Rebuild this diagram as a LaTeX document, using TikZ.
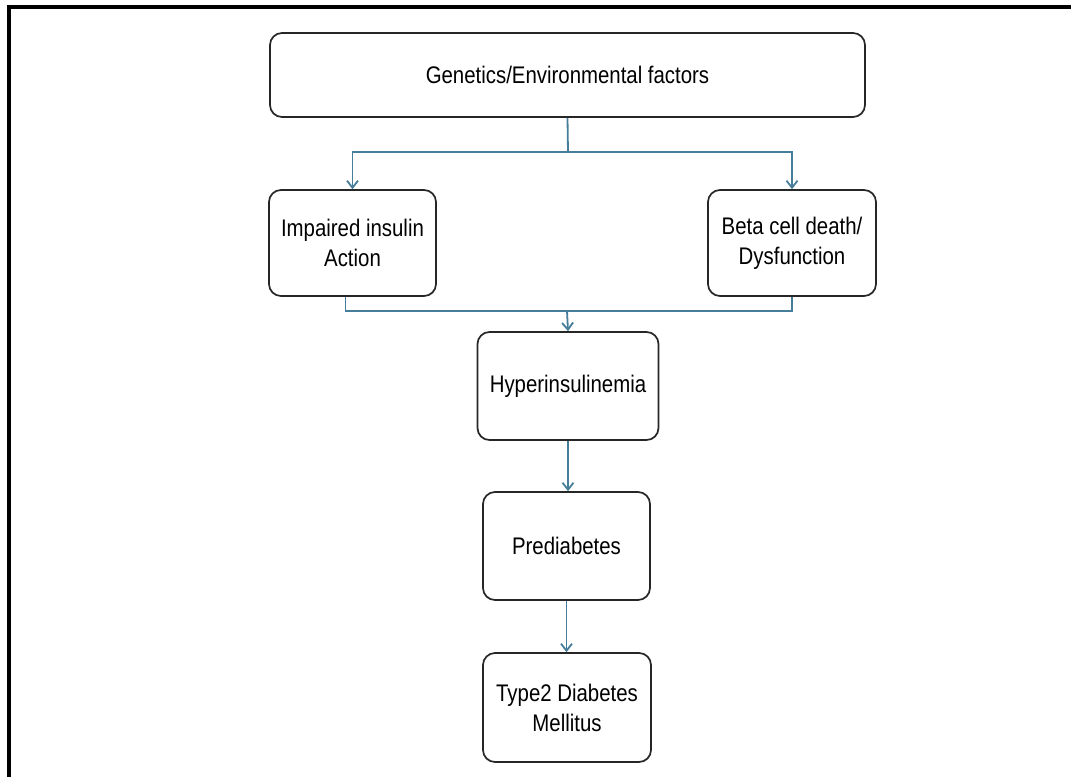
\documentclass[tikz,border=0pt]{standalone}
\usepackage{fontspec}
\setmainfont[FakeStretch=0.85]{Liberation Sans}
\usepackage{tikz}
\usetikzlibrary{shapes,arrows.meta}
\definecolor{flowblue}{RGB}{70,125,155}

\begin{document}
\begin{tikzpicture}[x=1pt,y=-1pt,
	box/.style={draw=black!85,line width=1.7pt,rounded corners=12pt,align=center,font=\fontsize{24}{30}\selectfont},
	link/.style={draw=flowblue,line width=1.8pt},
	flow/.style={link,-{Straight Barb[length=7pt,width=11pt]}}]
\useasboundingbox (0,0) rectangle (1071,777);
\draw[line width=3.5pt] (1071,7) -- (9,7) -- (9,777);
\node [box,minimum width=595pt,minimum height=84pt] (gen) at (567.5,75) {Genetics/Environmental factors};
\node [box,minimum width=167pt,minimum height=106pt] (impaired) at (352.5,243) {Impaired insulin\\Action};
\node [box,minimum width=168pt,minimum height=106pt] (beta) at (792,243) {Beta cell death/\\Dysfunction};
\node [box,minimum width=181pt,minimum height=108pt] (hyper) at (568,386) {Hyperinsulinemia};
\node [box,minimum width=167pt,minimum height=108pt] (prediab) at (566.5,546) {Prediabetes};
\node [box,minimum width=168pt,minimum height=109pt] (t2dm) at (567,707.5) {Type2 Diabetes\\Mellitus};
\coordinate (split) at (568,152);
\coordinate (merge) at (567,311);
\draw[link] (gen.south) -- (split);
\draw[flow] (split) -| (impaired.north);
\draw[flow] (split) -| (beta.north);
\draw[link] ([xshift=-7pt]impaired.south) |- (merge);
\draw[link] (beta.south) |- (merge);
\draw[flow] (merge) -- (hyper.north);
\draw[flow] (hyper.south) -- (hyper.south |- prediab.north);
\draw[flow] (prediab.south) -- (prediab.south |- t2dm.north);
\end{tikzpicture}
\end{document}
